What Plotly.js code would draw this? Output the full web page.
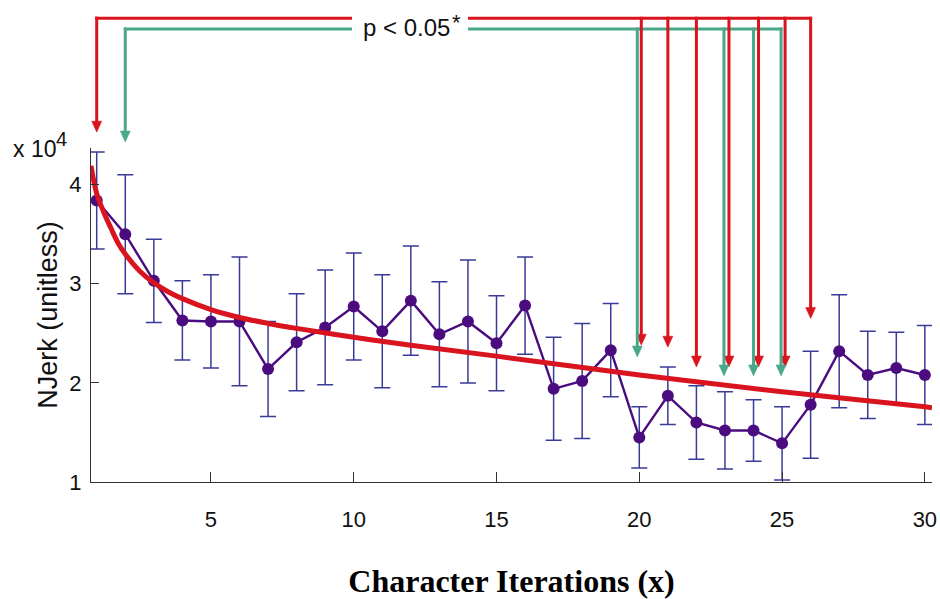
<!DOCTYPE html>
<html><head><meta charset="utf-8">
<script src="https://cdn.plot.ly/plotly-3.0.1.min.js"></script>
<style>html,body{margin:0;padding:0;background:#fff}#chart{width:940px;height:599px}</style>
</head><body><div id="chart"></div>
<script>
// ---- data (NJerk in units of x10^4) ----
const iterations = [1,2,3,4,5,6,7,8,9,10,11,12,13,14,15,16,17,18,19,20,21,22,23,24,25,26,27,28,29,30];
const njerkMean = [3.84,3.50,3.03,2.63,2.62,2.62,2.14,2.41,2.56,2.77,2.52,2.83,2.49,2.62,2.40,2.78,1.94,2.02,2.33,1.45,1.87,1.60,1.52,1.52,1.39,1.78,2.32,2.08,2.15,2.08];
const njerkSD = [0.49,0.60,0.42,0.40,0.47,0.65,0.48,0.49,0.58,0.54,0.57,0.55,0.53,0.62,0.48,0.49,0.52,0.58,0.47,0.31,0.29,0.37,0.39,0.31,0.37,0.54,0.57,0.44,0.36,0.50];
const fitX = [0.8,1,1.25,1.5,1.75,2,2.5,3,3.5,4,5,6,7,8,10,12,15,20,25,30,30.25];
const fitY = [4.19,3.91,3.72,3.56,3.41,3.30,3.13,3.01,2.92,2.85,2.74,2.66,2.60,2.55,2.46,2.38,2.27,2.08,1.91,1.76,1.75];
const xTickVals = [5,10,15,20,25,30];
const yTickVals = [1,2,3,4];
const redSigIters = [1,20,21,22,23,24,25,26];
const greenSigIters = [2,20,23,24,25];
const sigLabel = 'p &lt; 0.05';
const sigStar = '*';
const yTitle = 'NJerk (unitless)';
const xTitle = 'Character Iterations (x)';
const scaleBase = 'x 10';
const scaleExp = '4';

// ---- layout geometry / styles ----
const W = 940, H = 599;
const M = {l: 91, r: 8, t: 148, b: 117};
const plotW = W - M.l - M.r, plotH = H - M.t - M.b;
const XR = [0.8, 30.25], YR = [1, 4.37];
const RED = '#d9141e', GREEN = '#4aa88a', PURPLE = '#4a0c7e', ERR = '#3a3a98';
const xp = v => (v - XR[0]) / (XR[1] - XR[0]);
const yp = v => (v - YR[0]) / (YR[1] - YR[0]);
const pxX = 1 / plotW, pxY = 1 / plotH;
const fromPxX = px => (px - M.l) / plotW;
const fromPxY = py => (H - M.b - py) / plotH;

// arrow tip heights (y units) and pixel shifts, keyed by iteration
const redTip = {1: 4.53, 20: 2.38, 21: 2.36, 22: 2.16, 23: 2.16, 24: 2.16, 25: 2.16, 26: 2.65};
const greenTip = {2: 4.43, 20: 2.26, 23: 2.07, 24: 2.07, 25: 2.07};
const redShift = {1: 0, 20: 2, 21: 0, 22: 0, 23: 4, 24: 5, 25: 3, 26: 0};
const greenShift = {2: 0, 20: -2, 23: -1, 24: 0, 25: -1};
const redLevel = 5.68, greenLevel = 5.57;
const headW = 10, headL = 11, lw = 3;

function arrowShapes(iters, tips, shifts, level, color) {
  const out = [];
  iters.forEach(it => {
    const cx = xp(it) + shifts[it] * pxX;
    const ty = yp(tips[it]);
    out.push({type: 'line', xref: 'paper', yref: 'paper', layer: 'above',
      x0: cx, x1: cx, y0: yp(level) + 1.5 * pxY, y1: ty + (headL - 2) * pxY,
      line: {color: color, width: lw}});
    const bx0 = cx - headW / 2 * pxX, bx1 = cx + headW / 2 * pxX, by = ty + headL * pxY;
    out.push({type: 'path', xref: 'paper', yref: 'paper', layer: 'above',
      path: `M${bx0},${by} L${bx1},${by} L${cx},${ty} Z`,
      fillcolor: color, line: {color: color, width: 0.5}});
  });
  return out;
}

function hline(i0, s0, i1, s1, level, color) {
  return {type: 'line', xref: 'paper', yref: 'paper', layer: 'above',
    x0: xp(i0) + (s0 - 1.5) * pxX, x1: xp(i1) + (s1 + 1.5) * pxX,
    y0: yp(level), y1: yp(level), line: {color: color, width: lw}};
}

const traces = [
  {x: iterations, y: njerkMean, type: 'scatter', mode: 'lines+markers',
   line: {color: PURPLE, width: 2.4}, marker: {color: PURPLE, size: 12},
   error_y: {type: 'data', array: njerkSD, visible: true, color: ERR, thickness: 1.5, width: 8},
   showlegend: false},
  {x: fitX, y: fitY, type: 'scatter', mode: 'lines',
   line: {color: RED, width: 5, shape: 'spline', smoothing: 1}, showlegend: false}
];

const sans = '"Liberation Sans", Arial, sans-serif';
const tickFont = {family: '"Liberation Sans Narrow", "Arial Narrow", "Liberation Sans", Arial, sans-serif', size: 22, color: '#111'};

const layout = {
  width: W, height: H, margin: M,
  paper_bgcolor: '#fff', plot_bgcolor: '#fff', showlegend: false,
  xaxis: {range: XR, tickvals: xTickVals, ticktext: xTickVals.map(String), ticks: 'inside', ticklen: 10,
    tickcolor: '#333', tickwidth: 1, showline: true, linecolor: '#333', linewidth: 1.2,
    showgrid: false, zeroline: false, tickfont: tickFont, ticklabelstandoff: 17,
    title: {text: xTitle, font: {family: '"Liberation Serif", "Times New Roman", serif', size: 32, color: '#000', weight: 'bold'}, standoff: 40}},
  yaxis: {range: YR, tickvals: yTickVals, ticktext: yTickVals.map(String), ticks: 'inside', ticklen: 8,
    tickcolor: '#333', tickwidth: 1, showline: true, linecolor: '#333', linewidth: 1.2,
    showgrid: false, zeroline: false, tickfont: tickFont, ticklabelstandoff: 4,
    title: {text: yTitle, font: {family: sans, size: 27, color: '#111'}, standoff: 3}},
  shapes: [].concat(
    [hline(1, redShift[1], 26, redShift[26], redLevel, RED),
     hline(2, greenShift[2], 25, greenShift[25], greenLevel, GREEN)],
    arrowShapes(redSigIters, redTip, redShift, redLevel, RED),
    arrowShapes(greenSigIters, greenTip, greenShift, greenLevel, GREEN),
    [{type: 'rect', xref: 'paper', yref: 'paper', layer: 'above',
      x0: fromPxX(352), x1: fromPxX(468), y0: fromPxY(40), y1: fromPxY(8),
      fillcolor: '#fff', line: {width: 0}}]
  ),
  annotations: [
    {text: sigLabel, xref: 'paper', yref: 'paper', x: fromPxX(361), y: fromPxY(27),
     xanchor: 'left', yanchor: 'middle', showarrow: false,
     font: {family: sans, size: 24, color: '#111'}},
    {text: sigStar, xref: 'paper', yref: 'paper', x: fromPxX(456), y: fromPxY(22),
     xanchor: 'center', yanchor: 'middle', showarrow: false,
     font: {family: sans, size: 22, color: '#111'}},
    {text: scaleBase, xref: 'paper', yref: 'paper', x: fromPxX(11), y: fromPxY(149),
     xanchor: 'left', yanchor: 'middle', showarrow: false,
     font: {family: sans, size: 23, color: '#111'}},
    {text: scaleExp, xref: 'paper', yref: 'paper', x: fromPxX(54), y: fromPxY(139),
     xanchor: 'left', yanchor: 'middle', showarrow: false,
     font: {family: sans, size: 20, color: '#111'}}
  ]
};

Plotly.newPlot('chart', traces, layout, {displayModeBar: false, staticPlot: true});
</script>
</body></html>
